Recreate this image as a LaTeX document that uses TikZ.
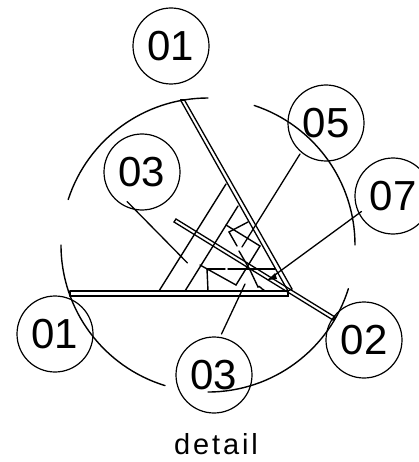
\documentclass[tikz,border=0pt]{standalone}
\usepackage{fontspec}
\setmainfont{Liberation Sans}
\newfontfamily\wide[LetterSpace=10]{Liberation Sans}
\begin{document}
\begin{tikzpicture}[x=1pt,y=-1pt,line width=1.4pt,line cap=round,
  tag/.style={draw,circle,minimum size=76pt,inner sep=0pt,line width=1.2pt,font=\fontsize{42}{42}\selectfont},
  thin part/.style={line width=1.3pt},
  heavy part/.style={line width=2pt},
  leader/.style={line width=1.3pt}]
\useasboundingbox (0,0) rectangle (419,462);
% reference circle
\coordinate (c) at (208,245);
\draw (c) ++(162:147pt) arc[start angle=162,end angle=90,radius=147pt];
\draw (c) ++(71.7:147pt) arc[start angle=71.7,end angle=0,radius=147pt];
\draw (c) ++(180:147pt) arc[start angle=180,end angle=253,radius=147pt];
\draw (c) ++(270:147pt) arc[start angle=270,end angle=342.7,radius=147pt];
% tags
\node[tag] (t1) at (171,46) {01};
\node[tag] (t5) at (326,123) {05};
\node[tag] (t3a) at (142,172) {03};
\node[tag] (t7) at (393,196) {07};
\node[tag] (t1b) at (55,334) {01};
\node[tag] (t2) at (364,340) {02};
\node[tag] (t3b) at (214,375) {03};
\node[font=\wide\fontsize{29}{29}\selectfont,anchor=base] (cap) at (216,454) {detail};
% coordinates
\coordinate (h1a) at (70,291); \coordinate (h1b) at (288,291);
\coordinate (h2a) at (70,296); \coordinate (h2b) at (288,296);
\coordinate (u1a) at (180.5,100); \coordinate (u1b) at (288,291);
\coordinate (u2a) at (184.5,100); \coordinate (u2b) at (292,289);
\coordinate (d1a) at (174,222); \coordinate (d1b) at (333,320);
\coordinate (d2a) at (176,219); \coordinate (d2b) at (335,317);
\coordinate (s1a) at (226,184); \coordinate (s1b) at (159,291);
\coordinate (s2a) at (238,206); \coordinate (s2b) at (185,291);
\coordinate (q1) at (226,225); \coordinate (q2) at (260,246);
\coordinate (q3) at (236,285); \coordinate (q4) at (200,265);
\coordinate (r1) at (229,232); \coordinate (r2) at (248,222);
\coordinate (r3) at (237,246); \coordinate (r4) at (239,251);
\coordinate (r5) at (250,270); \coordinate (r6) at (258,287); \coordinate (r7) at (264,290);
\coordinate (e1) at (207,269); \coordinate (e2) at (225,269);
\coordinate (e4) at (228,269); \coordinate (e5) at (275,269); \coordinate (e3) at (208,291);
\coordinate (l5a) at (300,154); \coordinate (l5b) at (242,247);
\coordinate (l7a) at (361.5,211.5); \coordinate (l7b) at (268,280);
\coordinate (l3a) at (127,201.5); \coordinate (l3b) at (187.5,263);
\coordinate (l3c) at (221.5,334); \coordinate (l3d) at (245,284);
% members
\draw[thin part] (h1a) -- (h1b);
\draw[heavy part] (h2a) -- (h2b) -- (288,291);
\draw[thin part] (h1a) -- (h2a);
\draw[thin part] (u1a) -- (u1b);
\draw[thin part] (u2a) -- (u2b) -- (u1b);
\draw[thin part] (u1a) -- (u2a);
\draw[thin part] (d1a) -- (d1b) -- (d2b) -- (d2a) -- cycle;
\draw (s1a) -- (s1b);
\draw (s2a) -- (s2b);
\draw (s1b) -- (s2b);
% bracket details
\draw (q1) -- (q2) -- (q3) -- (q4);
\draw (r2) -- (r1) -- (r3);
\draw (r4) -- (r5) -- (r6) to[out=60,in=170] (r7);
\draw (e1) -- (e2);
\draw (e4) -- (e5);
\draw (e1) -- (e3);
% leaders
\draw[leader] (l5a) -- (l5b);
\draw[leader] (l7a) -- (l7b);
\fill (l7b) -- ++(7,-7) -- ++(2,6) -- cycle;
\draw[leader] (l3a) -- (l3b);
\draw[leader] (l3c) -- (l3d);
\end{tikzpicture}
\end{document}
